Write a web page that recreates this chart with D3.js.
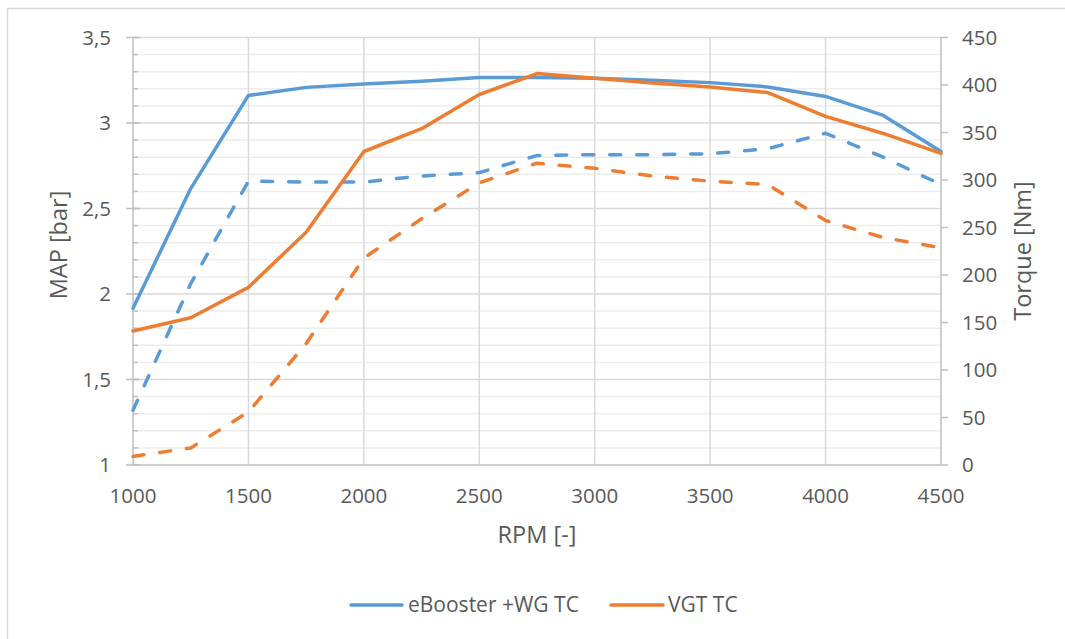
<!DOCTYPE html>
<html>
<head>
<meta charset="utf-8">
<script src="https://cdn.jsdelivr.net/npm/d3@7/dist/d3.min.js"></script>
<style>
  html, body { margin: 0; padding: 0; background: #fff; }
  svg { display: block; }
  text { font-family: "Open Sans", "Liberation Sans", sans-serif; fill: #595959; }
</style>
</head>
<body>
<svg id="chart" width="1065" height="639"></svg>
<script>
// ---- Data ----
const rpm = [1000, 1250, 1500, 1750, 2000, 2250, 2500, 2750, 3000, 3250, 3500, 3750, 4000, 4250, 4500];
const torqueEBooster = [165, 291, 389, 397.5, 401, 404, 408, 408, 407, 405, 402.5, 398, 388, 368, 330];
const torqueVGT      = [141, 155, 187, 245, 330, 354, 390, 412, 407, 402, 398, 392, 367, 349, 328];
const mapEBooster = [1.32, 2.06, 2.66, 2.655, 2.655, 2.69, 2.71, 2.81, 2.815, 2.815, 2.82, 2.85, 2.94, 2.80, 2.64];
const mapVGT      = [1.05, 1.10, 1.31, 1.71, 2.21, 2.44, 2.65, 2.765, 2.735, 2.69, 2.66, 2.64, 2.43, 2.33, 2.27];
const xTicks = [1000, 1500, 2000, 2500, 3000, 3500, 4000, 4500];
const mapTicks = [1, 1.5, 2, 2.5, 3, 3.5];
const mapMinor = d3.range(1, 3.501, 0.1).map(v => +v.toFixed(1));
const torqueTicks = [0, 50, 100, 150, 200, 250, 300, 350, 400, 450];
const legendLabels = ["eBooster +WG TC", "VGT TC"];
const colors = ["#5B9BD5", "#ED7D31"];

// ---- Layout ----
const svg = d3.select("#chart");
const L = 133, R = 941, T = 37.5, B = 465;

const x = d3.scaleLinear().domain([1000, 4500]).range([L, R]);
const yL = d3.scaleLinear().domain([1, 3.5]).range([B, T]);
const yR = d3.scaleLinear().domain([0, 450]).range([B, T]);

// outer border
svg.append("rect").attr("x", 7.5).attr("y", 8.5).attr("width", 1200).attr("height", 800)
  .attr("fill", "none").attr("stroke", "#d9d9d9").attr("stroke-width", 1.5);

// minor horizontal gridlines
svg.append("g").selectAll("line").data(mapMinor.filter(v => Math.abs(v * 2 - Math.round(v * 2)) > 1e-6))
  .join("line")
  .attr("x1", L).attr("x2", R).attr("y1", d => yL(d)).attr("y2", d => yL(d))
  .attr("stroke", "#ededed").attr("stroke-width", 1.5);

// major horizontal gridlines
svg.append("g").selectAll("line").data(mapTicks.slice(1))
  .join("line")
  .attr("x1", L).attr("x2", R).attr("y1", d => yL(d)).attr("y2", d => yL(d))
  .attr("stroke", "#d9d9d9").attr("stroke-width", 1.5);

// vertical gridlines
svg.append("g").selectAll("line").data(xTicks.slice(1, -1))
  .join("line")
  .attr("x1", d => x(d)).attr("x2", d => x(d)).attr("y1", T).attr("y2", B)
  .attr("stroke", "#d9d9d9").attr("stroke-width", 1.5);

// axis lines
const axisColor = "#bfbfbf";
svg.append("line").attr("x1", L).attr("x2", L).attr("y1", T).attr("y2", B).attr("stroke", axisColor).attr("stroke-width", 1.5);
svg.append("line").attr("x1", R).attr("x2", R).attr("y1", T).attr("y2", B).attr("stroke", axisColor).attr("stroke-width", 1.5);
svg.append("line").attr("x1", L).attr("x2", R).attr("y1", B).attr("y2", B).attr("stroke", axisColor).attr("stroke-width", 1.5);

// left major ticks
svg.append("g").selectAll("line").data(mapTicks).join("line")
  .attr("x1", L - 7).attr("x2", L + 7).attr("y1", d => yL(d)).attr("y2", d => yL(d))
  .attr("stroke", axisColor).attr("stroke-width", 1.5);
// left minor ticks
svg.append("g").selectAll("line").data(mapMinor).join("line")
  .attr("x1", L).attr("x2", L + 5).attr("y1", d => yL(d)).attr("y2", d => yL(d))
  .attr("stroke", axisColor).attr("stroke-width", 1.5);
// right ticks
svg.append("g").selectAll("line").data(torqueTicks).join("line")
  .attr("x1", R).attr("x2", R + 7).attr("y1", d => yR(d)).attr("y2", d => yR(d))
  .attr("stroke", axisColor).attr("stroke-width", 1.5);

const fs = 20.5, fsTitle = 23.5, fsLegend = 21;
// left tick labels
svg.append("g").selectAll("text").data(mapTicks).join("text")
  .attr("x", 111).attr("y", d => yL(d)).attr("dy", "0.35em")
  .attr("text-anchor", "end").attr("font-size", fs)
  .text(d => String(d).replace(".", ","));
// right tick labels
svg.append("g").selectAll("text").data(torqueTicks).join("text")
  .attr("x", 962).attr("y", d => yR(d)).attr("dy", "0.35em")
  .attr("text-anchor", "start").attr("font-size", fs)
  .text(d => d);
// x tick labels
svg.append("g").selectAll("text").data(xTicks).join("text")
  .attr("x", d => x(d)).attr("y", 495.5).attr("dy", "0.35em")
  .attr("text-anchor", "middle").attr("font-size", fs)
  .text(d => d);

// axis titles
svg.append("text").attr("x", 537).attr("y", 543)
  .attr("text-anchor", "middle").attr("font-size", fsTitle).text("RPM [-]");
svg.append("text").attr("transform", "translate(67,245) rotate(-90)")
  .attr("text-anchor", "middle").attr("font-size", fsTitle).text("MAP [bar]");
svg.append("text").attr("transform", "translate(1031,251) rotate(-90)")
  .attr("text-anchor", "middle").attr("font-size", fsTitle).text("Torque [Nm]");

// ---- Series ----
const lineMap = d3.line().x((d, i) => x(rpm[i])).y(d => yL(d));
const lineTq = d3.line().x((d, i) => x(rpm[i])).y(d => yR(d));

const series = [
  { data: mapEBooster, gen: lineMap, color: colors[0], dash: "11,16" },
  { data: mapVGT, gen: lineMap, color: colors[1], dash: "11,16" },
  { data: torqueEBooster, gen: lineTq, color: colors[0], dash: null },
  { data: torqueVGT, gen: lineTq, color: colors[1], dash: null }
];
series.forEach(s => {
  svg.append("path").datum(s.data)
    .attr("d", s.gen)
    .attr("fill", "none")
    .attr("stroke", s.color)
    .attr("stroke-width", 3.5)
    .attr("stroke-linejoin", "round")
    .attr("stroke-linecap", "round")
    .attr("stroke-dasharray", s.dash);
});

// ---- Legend ----
const legendItems = [
  { label: legendLabels[0], color: colors[0], x1: 351, x2: 402, tx: 408 },
  { label: legendLabels[1], color: colors[1], x1: 611, x2: 663, tx: 668 }
];
const lg = svg.append("g");
legendItems.forEach(it => {
  lg.append("line").attr("x1", it.x1).attr("x2", it.x2).attr("y1", 605).attr("y2", 605)
    .attr("stroke", it.color).attr("stroke-width", 3.5).attr("stroke-linecap", "round");
  lg.append("text").attr("x", it.tx).attr("y", 605).attr("dy", "0.35em")
    .attr("font-size", fsLegend).text(it.label);
});
</script>
</body>
</html>
